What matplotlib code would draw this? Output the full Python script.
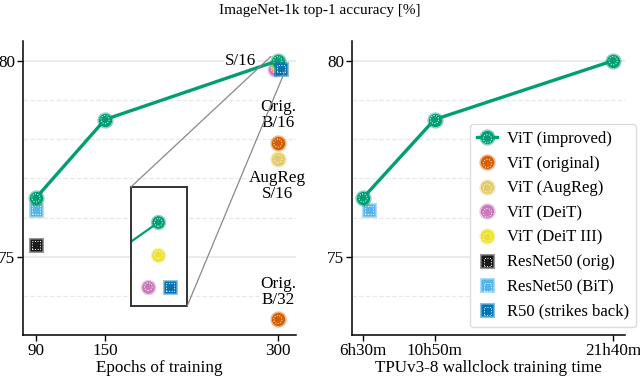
import matplotlib.pyplot as plt
import numpy as np
from matplotlib.colors import to_rgba
from matplotlib.patches import ConnectionPatch
from matplotlib.ticker import MultipleLocator
from matplotlib.legend_handler import HandlerTuple

plt.rcParams['font.family'] = ['Liberation Serif', 'DejaVu Serif']
plt.rcParams['font.size'] = 12.3

# data
epochs = [90, 150, 300]
hours = [6.5, 10 + 50 / 60, 21 + 40 / 60]
vit_improved = [76.5, 78.5, 80.0]
vit_orig_x = [300, 300]
vit_orig = [77.9, 73.4]
augreg_x = [300]
augreg = [77.5]
deit_x = [297.8]
deit = [79.8]
deit3_x = [300]
deit3 = [79.9]
rn_orig_x = [90]
rn_orig = [75.3]
bit_x = [90]
bit_hours = [6.86]
bit = [76.2]
rsb_x = [302.6]
rsb = [79.8]
xtick_hours = ['6h30m', '10h50m', '21h40m']

GREEN = '#029e73'
ORANGE = '#d55e00'
KHAKI = '#e3cb6c'
PINK = '#cc78bc'
YELLOW = '#ece133'
BLACK = '#1a1a1a'
LBLUE = '#56b4e9'
BLUE = '#0173b2'

'''
    Draw a marker with a soft halo and a dotted white ring.
    Returns a handle tuple usable in a legend.
'''
def mark(ax, x, y, color, marker='o', ls='none', ms=9.5, z=5):
    line, = ax.plot(x, y, marker=marker, ls=ls, lw=2.4, color=color, ms=ms,
                    mfc=color, mec=to_rgba(color, 0.45), mew=2.2, zorder=z,
                    clip_on=False)
    ring = ax.scatter(x, y, s=(ms * 0.62) ** 2, marker=marker, facecolors='none',
                      edgecolors='white', linestyles=':', linewidths=0.7,
                      zorder=z + 0.1, clip_on=False)
    return (line, ring)


def style(ax):
    for s in ['top', 'right']:
        ax.spines[s].set_visible(False)
    ax.spines['left'].set_linewidth(1.1)
    ax.spines['bottom'].set_linewidth(1.1)
    ax.set_ylim(73.0, 80.5)
    ax.set_yticks([75, 80])
    ax.yaxis.set_minor_locator(MultipleLocator(1))
    ax.tick_params(which='minor', length=0)
    ax.tick_params(which='major', length=4, width=1, pad=1.5)
    ax.grid(axis='y', which='major', color='#e8e8e8', lw=1.2, zorder=0)
    ax.grid(axis='y', which='minor', color='#e8e8e8', lw=0.9, ls='--', zorder=0)
    ax.set_axisbelow(True)


fig = plt.figure(figsize=(6.4, 3.77), dpi=100)
ax1 = fig.add_axes([0.036, 0.111, 0.426, 0.78])
ax2 = fig.add_axes([0.55, 0.111, 0.427, 0.78])
fig.suptitle('ImageNet-1k top-1 accuracy [%]', y=0.99, fontsize=11)

# left: epochs
style(ax1)
ax1.set_xlim(78.8, 315.5)
ax1.set_xticks(epochs)
ax1.set_xlabel('Epochs of training', labelpad=1)

h_imp = mark(ax1, epochs, vit_improved, GREEN, ls='-', z=6)
h_orig = mark(ax1, vit_orig_x, vit_orig, ORANGE)
h_aug = mark(ax1, augreg_x, augreg, KHAKI)
h_deit = mark(ax1, deit_x, deit, PINK)
h_deit3 = mark(ax1, deit3_x, deit3, YELLOW)
h_rno = mark(ax1, rn_orig_x, rn_orig, BLACK, marker='s', ms=9)
h_bit = mark(ax1, bit_x, bit, LBLUE, marker='s', ms=9)
h_rsb = mark(ax1, rsb_x, rsb, BLUE, marker='s', ms=9, z=7)

box = dict(fc='white', ec='none', pad=0.5)
ax1.text(281, 80.0, 'S/16', ha='right', va='center', bbox=box, zorder=4)
ax1.text(300, 78.62, 'Orig.\nB/16', ha='center', va='center', linespacing=1.0,
         bbox=box, zorder=4)
ax1.text(300, 76.81, 'AugReg\nS/16', ha='center', va='center', linespacing=1.0,
         bbox=box, zorder=4)
ax1.text(300, 74.11, 'Orig.\nB/32', ha='center', va='center', linespacing=1.0,
         bbox=box, zorder=4)

# zoomed inset around the 300 epoch cluster
axins = ax1.inset_axes([0.396, 0.099, 0.206, 0.405])
axins.set_xlim(294, 306.3)
axins.set_ylim(79.74, 80.11)
axins.set_xticks([])
axins.set_yticks([])
for s in axins.spines.values():
    s.set_color('#333333')
    s.set_linewidth(1.4)
axins.plot(epochs, vit_improved, color=GREEN, lw=1.6, zorder=2)
for xs, ys, c, m in [(epochs[-1:], vit_improved[-1:], GREEN, 'o'),
                     (deit3_x, deit3, YELLOW, 'o'),
                     (deit_x, deit, PINK, 'o'),
                     (rsb_x, rsb, BLUE, 's')]:
    axins.plot(xs, ys, marker=m, ls='none', ms=9, mfc=c,
               mec=to_rgba(c, 0.45), mew=2, zorder=3)
    axins.scatter(xs, ys, s=(9 * 0.62) ** 2, marker=m, facecolors='none',
                  edgecolors='white', linestyles=':', linewidths=0.7, zorder=4)

for a, b in [((0, 1), (294, 80.11)), ((1, 0), (306.3, 79.74))]:
    con = ConnectionPatch(xyA=a, coordsA=axins.transAxes, xyB=b,
                          coordsB=ax1.transData, color='#888888', lw=0.9,
                          zorder=1)
    fig.add_artist(con)

# right: wallclock time
style(ax2)
ax2.set_xlim(5.83, 22.4)
ax2.set_xticks(hours)
ax2.set_xticklabels(xtick_hours)
ax2.set_xlabel('TPUv3-8 wallclock training time', labelpad=1)
mark(ax2, hours, vit_improved, GREEN, ls='-', z=6)
mark(ax2, bit_hours, bit, LBLUE, marker='s', ms=9)

handles = [h_imp, h_orig, h_aug, h_deit, h_deit3, h_rno, h_bit, h_rsb]
labels = ['ViT (improved)', 'ViT (original)', 'ViT (AugReg)', 'ViT (DeiT)',
          'ViT (DeiT III)', 'ResNet50 (orig)', 'ResNet50 (BiT)',
          'R50 (strikes back)']
ax2.legend(handles, labels, loc='lower right', bbox_to_anchor=(1.04, 0.027),
           borderaxespad=0, handler_map={tuple: HandlerTuple(ndivide=1, pad=0)},
           handlelength=1.2, handletextpad=0.55, borderpad=0.45,
           labelspacing=0.52, fontsize=12, framealpha=1,
           edgecolor='#dddddd')

plt.savefig('out.png', dpi=100)
